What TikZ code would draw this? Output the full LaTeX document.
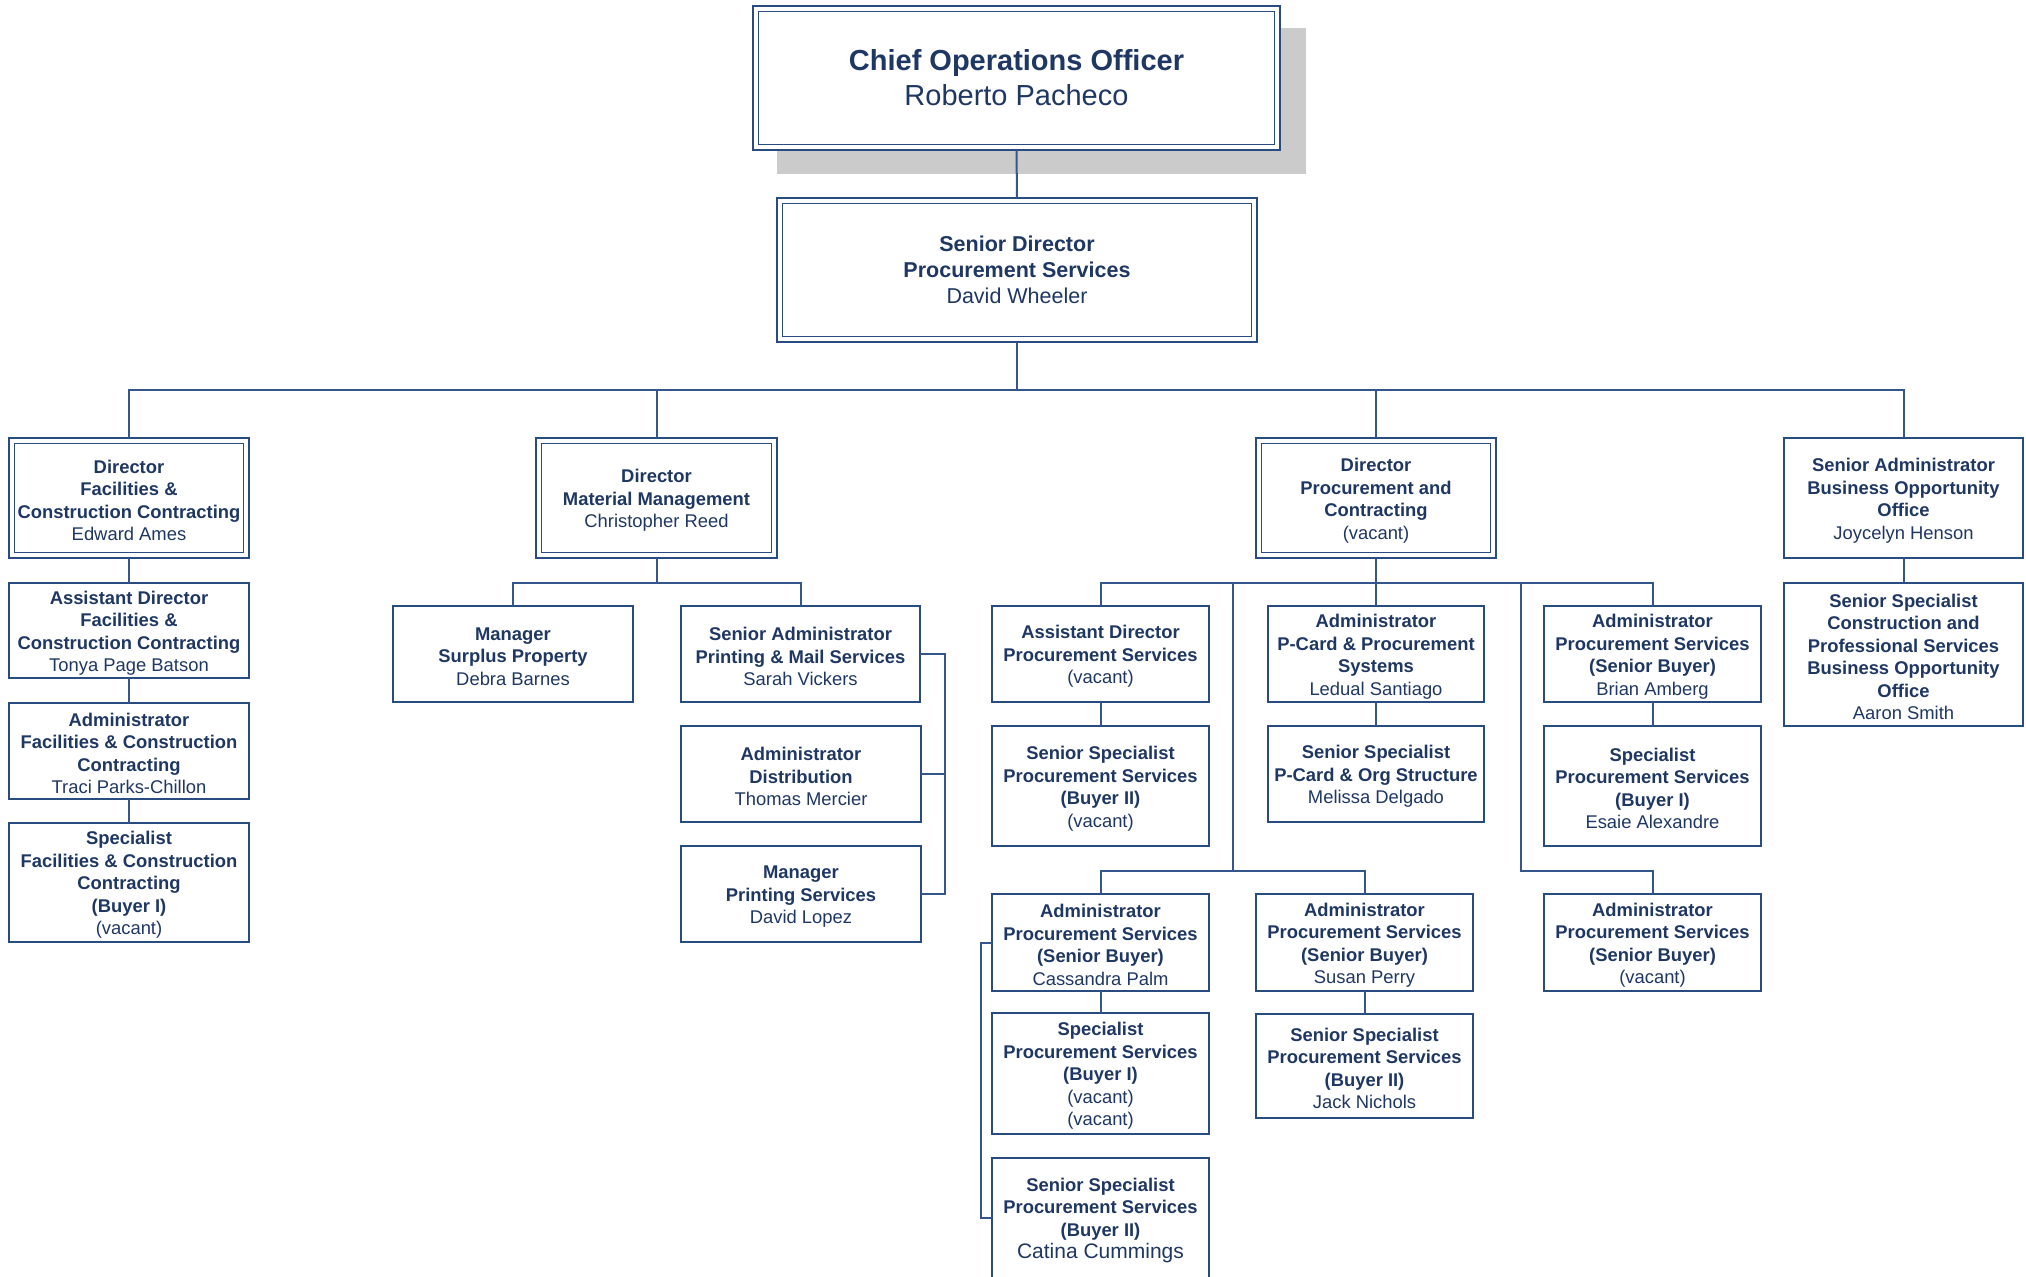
\documentclass[tikz,border=0pt]{standalone}
\usepackage{fontspec}
\setmainfont{Liberation Sans}
\definecolor{txtcol}{HTML}{1F3763}
\definecolor{bordcol}{HTML}{284B80}
\definecolor{conncol}{HTML}{34568A}
\definecolor{shadcol}{HTML}{CBCBCB}
\pgfkeys{/org/dy/.initial=-1.3pt}
\newcommand\tb[1]{\textbf{#1}}
\newcommand\orgbox[7][]{%
  \node[orgnode,#1,minimum width={(#5-#3)*0.5pt},minimum height={(#6-#4)*0.5pt}] (#2) at ({(#3+#5)/2},{(#4+#6)/2}) {};
  \node[orgtext,#1,shiftit] (#2-t) at (#2.center) {#7};}
\newcommand\dblframe[1]{%
  \draw[innerln] ([xshift=2.75pt,yshift=-2.75pt]#1.north west) rectangle ([xshift=-2.75pt,yshift=2.75pt]#1.south east);}
\begin{document}
\begin{tikzpicture}[x=0.5pt,y=-0.5pt,
  orgnode/.style={draw=bordcol,line width=1pt,fill=white,inner sep=0pt,outer sep=0pt},
  orgtext/.style={inner sep=0pt,outer sep=0pt,align=center,text=txtcol,font=\fontsize{9.2}{11.25}\selectfont},
  shiftit/.style={yshift=\pgfkeysvalueof{/org/dy}},
  topfont/.style={font=\fontsize{14.5}{17.5}\selectfont,/org/dy=0pt},
  midfont/.style={font=\fontsize{10.75}{12.9}\selectfont,/org/dy=0pt},
  outerln/.style={line width=1.3pt},
  innerln/.style={draw=bordcol,line width=0.75pt},
  conn/.style={draw=conncol,line width=1pt}]
\useasboundingbox (0,0) rectangle (2026,1276);
\clip (0,0) rectangle (2026,1276);
\coordinate (bus1) at (0,390);
\coordinate (bus2) at (0,583);
\coordinate (brM) at (944.5,0);
\coordinate (brL) at (980.7,0);
\coordinate (vL) at (1233,871);
\coordinate (vR) at (1521,871);

% shadow
\fill[shadcol] (777,28) rectangle (1306,174);

% top
\orgbox[outerln,topfont]{coo}{753}{6}{1280}{150}{\tb{Chief Operations Officer}\\Roberto Pacheco}
\dblframe{coo}
\orgbox[outerln,midfont]{sd}{777}{198}{1257}{342}{\tb{Senior Director}\\\tb{Procurement Services}\\David Wheeler}
\dblframe{sd}

% directors
\orgbox[outerln]{dfc}{9}{438}{249}{558}{\tb{Director}\\\tb{Facilities \&}\\\tb{Construction Contracting}\\Edward Ames}
\dblframe{dfc}
\orgbox[outerln]{dmm}{536}{438}{777}{558}{\tb{Director}\\\tb{Material Management}\\Christopher Reed}
\dblframe{dmm}
\orgbox[outerln]{dpc}{1256}{438}{1496}{558}{\tb{Director}\\\tb{Procurement and}\\\tb{Contracting}\\(vacant)}
\dblframe{dpc}
\orgbox{sboo}{1784}{438}{2023}{558}{\tb{Senior Administrator}\\\tb{Business Opportunity}\\\tb{Office}\\Joycelyn Henson}

% F&C column
\orgbox{adfc}{9}{583}{249}{678}{\tb{Assistant Director}\\\tb{Facilities \&}\\\tb{Construction Contracting}\\Tonya Page Batson}
\orgbox{afc}{9}{703}{249}{799}{\tb{Administrator}\\\tb{Facilities \& Construction}\\\tb{Contracting}\\Traci Parks-Chillon}
\orgbox{sfc}{9}{823}{249}{942}{\tb{Specialist}\\\tb{Facilities \& Construction}\\\tb{Contracting}\\\tb{(Buyer I)}\\(vacant)}

% MM column
\orgbox{msp}{393}{606}{633}{702}{\tb{Manager}\\\tb{Surplus Property}\\Debra Barnes}
\orgbox{sapm}{681}{606}{920}{702}{\tb{Senior Administrator}\\\tb{Printing \& Mail Services}\\Sarah Vickers}
\orgbox{adist}{681}{726}{921}{822}{\tb{Administrator}\\\tb{Distribution}\\Thomas Mercier}
\orgbox{mps}{681}{846}{921}{942}{\tb{Manager}\\\tb{Printing Services}\\David Lopez}

% P&C column
\orgbox{adps}{992}{606}{1209}{702}{\tb{Assistant Director}\\\tb{Procurement Services}\\(vacant)}
\orgbox{apc}{1268}{606}{1484}{702}{\tb{Administrator}\\\tb{P-Card \& Procurement}\\\tb{Systems}\\Ledual Santiago}
\orgbox{apsb}{1544}{606}{1761}{702}{\tb{Administrator}\\\tb{Procurement Services}\\\tb{(Senior Buyer)}\\Brian Amberg}
\orgbox{ssps}{992}{726}{1209}{846}{\tb{Senior Specialist}\\\tb{Procurement Services}\\\tb{(Buyer II)}\\(vacant)}
\orgbox{sspc}{1268}{726}{1484}{822}{\tb{Senior Specialist}\\\tb{P-Card \& Org Structure}\\Melissa Delgado}
\orgbox{spse}{1544}{726}{1761}{846}{\tb{Specialist}\\\tb{Procurement Services}\\\tb{(Buyer I)}\\Esaie Alexandre}
\orgbox{cass}{992}{894}{1209}{991}{\tb{Administrator}\\\tb{Procurement Services}\\\tb{(Senior Buyer)}\\Cassandra Palm}
\orgbox{susan}{1256}{894}{1473}{991}{\tb{Administrator}\\\tb{Procurement Services}\\\tb{(Senior Buyer)}\\Susan Perry}
\orgbox{apsv}{1544}{894}{1761}{991}{\tb{Administrator}\\\tb{Procurement Services}\\\tb{(Senior Buyer)}\\(vacant)}
\orgbox{spsv}{992}{1013}{1209}{1134}{\tb{Specialist}\\\tb{Procurement Services}\\\tb{(Buyer I)}\\(vacant)\\(vacant)}
\orgbox{jack}{1256}{1014}{1473}{1118}{\tb{Senior Specialist}\\\tb{Procurement Services}\\\tb{(Buyer II)}\\Jack Nichols}
\orgbox{catina}{992}{1158}{1209}{1278}{\tb{Senior Specialist}\\\tb{Procurement Services}\\\tb{(Buyer II)}\\{\fontsize{10.5}{11.25}\selectfont Catina Cummings}}

% BOO column
\orgbox{sscp}{1784}{583}{2023}{726}{\tb{Senior Specialist}\\\tb{Construction and}\\\tb{Professional Services}\\\tb{Business Opportunity}\\\tb{Office}\\Aaron Smith}

% connectors
\draw[conn] (coo.south) -- (sd.north);
\draw[conn] (sd.south) -- (sd.south|-bus1);
\draw[conn] (dfc.north) -- (dfc.north|-bus1) -- (sboo.north|-bus1) -- (sboo.north);
\draw[conn] (dmm.north) -- (dmm.north|-bus1);
\draw[conn] (dpc.north) -- (dpc.north|-bus1);

\draw[conn] (dfc.south) -- (adfc.north);
\draw[conn] (adfc.south) -- (afc.north);
\draw[conn] (afc.south) -- (sfc.north);

\draw[conn] (dmm.south) -- (dmm.south|-bus2);
\draw[conn] (msp.north) -- (msp.north|-bus2) -- (sapm.north|-bus2) -- (sapm.north);
\draw[conn] (sapm.east) -- (sapm.east-|brM) -- (mps.east-|brM) -- (mps.east);
\draw[conn] (adist.east) -- (adist.east-|brM);

\draw[conn] (dpc.south) -- (apc.north);
\draw[conn] (adps.north) -- (adps.north|-bus2) -- (apsb.north|-bus2) -- (apsb.north);
\draw[conn] (adps.south) -- (ssps.north);
\draw[conn] (apc.south) -- (sspc.north);
\draw[conn] (apsb.south) -- (spse.north);
\draw[conn] (vL|-bus2) -- (vL);
\draw[conn] (cass.north) -- (cass.north|-vL) -- (susan.north|-vL) -- (susan.north);
\draw[conn] (vR|-bus2) -- (vR) -- (apsv.north|-vR) -- (apsv.north);
\draw[conn] (cass.south) -- (spsv.north);
\draw[conn] (susan.south) -- (jack.north);
\draw[conn] (cass.west) -- (cass.west-|brL) -- (catina.west-|brL) -- (catina.west);

\draw[conn] (sboo.south) -- (sscp.north);
\end{tikzpicture}
\end{document}
